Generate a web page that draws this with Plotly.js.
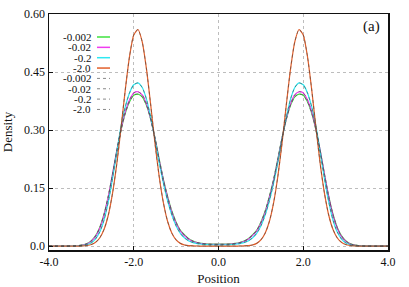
<!DOCTYPE html>
<html>
<head>
<meta charset="utf-8">
<script src="https://cdn.plot.ly/plotly-3.0.1.min.js"></script>
<style>html,body{margin:0;padding:0;background:#fff;}#chart{width:409px;height:287px;}</style>
</head>
<body>
<div id="chart"></div>
<script>
// Position grid (x), read at 0.1 steps
const positions = [-4.0,-3.9,-3.8,-3.7,-3.6,-3.5,-3.4,-3.3,-3.2,-3.1,-3.0,-2.9,-2.8,-2.7,-2.6,-2.5,-2.4,-2.3,-2.2,-2.1,-2.0,-1.9,-1.8,-1.7,-1.6,-1.5,-1.4,-1.3,-1.2,-1.1,-1.0,-0.9,-0.8,-0.7,-0.6,-0.5,-0.4,-0.3,-0.2,-0.1,0.0,0.1,0.2,0.3,0.4,0.5,0.6,0.7,0.8,0.9,1.0,1.1,1.2,1.3,1.4,1.5,1.6,1.7,1.8,1.9,2.0,2.1,2.2,2.3,2.4,2.5,2.6,2.7,2.8,2.9,3.0,3.1,3.2,3.3,3.4,3.5,3.6,3.7,3.8,3.9,4.0];

// Density for each parameter value
const density_m0002 = [0,0,0,0,0.0001,0.0002,0.0005,0.0013,0.0031,0.0068,0.014,0.027,0.049,0.083,0.129,0.186,0.246,0.300,0.343,0.373,0.390,0.393,0.386,0.364,0.328,0.280,0.225,0.172,0.128,0.090,0.062,0.041,0.029,0.019,0.013,0.0095,0.0073,0.0060,0.0054,0.0051,0.0050,0.0051,0.0054,0.0060,0.0073,0.0095,0.013,0.019,0.029,0.041,0.062,0.090,0.128,0.172,0.225,0.280,0.328,0.364,0.386,0.393,0.390,0.373,0.343,0.300,0.246,0.186,0.129,0.083,0.049,0.027,0.014,0.0068,0.0031,0.0013,0.0005,0.0002,0.0001,0,0,0,0];

const density_m002 = [0,0,0,0,0.0001,0.0002,0.0004,0.0011,0.0027,0.0060,0.013,0.025,0.047,0.081,0.128,0.186,0.247,0.302,0.347,0.378,0.396,0.399,0.391,0.368,0.329,0.279,0.223,0.170,0.125,0.087,0.059,0.039,0.027,0.018,0.012,0.0088,0.0067,0.0055,0.0048,0.0044,0.0043,0.0044,0.0048,0.0055,0.0067,0.0088,0.012,0.018,0.027,0.039,0.059,0.087,0.125,0.170,0.223,0.279,0.329,0.368,0.391,0.399,0.396,0.378,0.347,0.302,0.247,0.186,0.128,0.081,0.047,0.025,0.013,0.0060,0.0027,0.0011,0.0004,0.0002,0.0001,0,0,0,0];

const density_m02 = [0,0,0,0,0,0.0001,0.0002,0.0006,0.0015,0.0038,0.0088,0.019,0.037,0.068,0.115,0.175,0.243,0.310,0.360,0.396,0.417,0.422,0.410,0.380,0.333,0.277,0.217,0.163,0.117,0.080,0.052,0.033,0.021,0.0135,0.0092,0.0066,0.0050,0.0040,0.0034,0.0031,0.0030,0.0031,0.0034,0.0040,0.0050,0.0066,0.0092,0.0135,0.021,0.033,0.052,0.080,0.117,0.163,0.217,0.277,0.333,0.380,0.410,0.422,0.417,0.396,0.360,0.310,0.243,0.175,0.115,0.068,0.037,0.019,0.0088,0.0038,0.0015,0.0006,0.0002,0.0001,0,0,0,0,0];

const density_m20 = [0,0,0,0,0,0,0.0001,0.0002,0.0006,0.0016,0.0042,0.0099,0.0217,0.0436,0.0805,0.137,0.213,0.306,0.404,0.490,0.546,0.560,0.528,0.458,0.365,0.267,0.180,0.112,0.0636,0.0333,0.016,0.0071,0.0029,0.0011,0.0005,0.0003,0.0002,0.0002,0.0002,0.0002,0.0002,0.0002,0.0002,0.0002,0.0002,0.0003,0.0005,0.0011,0.0029,0.0071,0.016,0.0333,0.0636,0.112,0.180,0.267,0.365,0.458,0.528,0.560,0.546,0.490,0.404,0.306,0.213,0.137,0.0805,0.0436,0.0217,0.0099,0.0042,0.0016,0.0006,0.0002,0.0001,0,0,0,0,0,0];

const seriesLabels = ['-0.002','-0.02','-0.2','-2.0'];
const seriesColors = ['#3fe23f','#f03cf0','#2ee8f2','#e2602c'];
const seriesData = [density_m0002, density_m002, density_m02, density_m20];

const xTickVals = [-4,-2,0,2,4];
const xTickText = ['-4.0','-2.0','0.0','2.0','4.0'];
const yTickVals = [0,0.15,0.30,0.45,0.60];
const yTickText = ['0.0','0.15','0.30','0.45','0.60'];

const FONT = 'Liberation Serif, serif';

const traces = [];
seriesData.forEach((d,i)=>{
  traces.push({x:positions,y:d,type:'scatter',mode:'lines',name:seriesLabels[i],
    line:{color:seriesColors[i],width:1.2,shape:'spline',smoothing:0.6},showlegend:false,hoverinfo:'skip'});
});
seriesData.forEach((d,i)=>{
  traces.push({x:positions,y:d,type:'scatter',mode:'lines',name:seriesLabels[i],
    line:{color:'#444',width:1,dash:'dot',shape:'spline',smoothing:0.6},opacity:0.55,showlegend:false,hoverinfo:'skip'});
});

// manual gnuplot-style legend (text left of the sample line)
const L = 49, R = 388, T = 14, B = 250;
const W = R-L, H = B-T;
const px2x = p => (p-L)/W;
const px2y = p => (B-p)/H;
const annotations = [];
const shapes = [];
const allLabels = seriesLabels.concat(seriesLabels);
allLabels.forEach((lab,k)=>{
  const py = 37 + k*10.35;
  annotations.push({xref:'paper',yref:'paper',x:px2x(91.5),y:px2y(py),xanchor:'right',yanchor:'middle',
    text:lab,showarrow:false,borderpad:0,font:{family:FONT,size:11,color:'#111'}});
  const solid = k < 4;
  shapes.push({type:'line',xref:'paper',yref:'paper',x0:px2x(97),x1:px2x(110),y0:px2y(py),y1:px2y(py),
    line:{color: solid ? seriesColors[k] : '#888', width: solid ? 1.5 : 1, dash: solid ? 'solid' : 'dot'}});
});
annotations.push({xref:'paper',yref:'paper',x:px2x(382),y:px2y(27),xanchor:'right',yanchor:'middle',
  text:'(a)',showarrow:false,font:{family:FONT,size:15,color:'#111'}});

const axisCommon = {
  showline:true, mirror:true, linecolor:'#111', linewidth:1.5,
  ticks:'inside', ticklen:4, tickwidth:1, tickcolor:'#111',
  showgrid:true, gridcolor:'#bdbdbd', gridwidth:1, griddash:'dot',
  zeroline:false,
  tickfont:{family:FONT,size:12,color:'#111'}
};

const layout = {
  width:409, height:287,
  margin:{l:L, r:409-R, t:T, b:287-B},
  paper_bgcolor:'#fff', plot_bgcolor:'#fff',
  font:{family:FONT,color:'#111'},
  xaxis:Object.assign({}, axisCommon, {range:[-4,4], tickvals:xTickVals, ticktext:xTickText,
    title:{text:'Position', font:{family:FONT,size:13}, standoff:6}}),
  yaxis:Object.assign({}, axisCommon, {range:[-0.01,0.6], tickvals:yTickVals, ticktext:yTickText,
    title:{text:'Density', font:{family:FONT,size:13}, standoff:8}}),
  annotations:annotations,
  shapes:shapes,
  showlegend:false
};

Plotly.newPlot('chart', traces, layout, {staticPlot:true, displayModeBar:false});
</script>
</body>
</html>
